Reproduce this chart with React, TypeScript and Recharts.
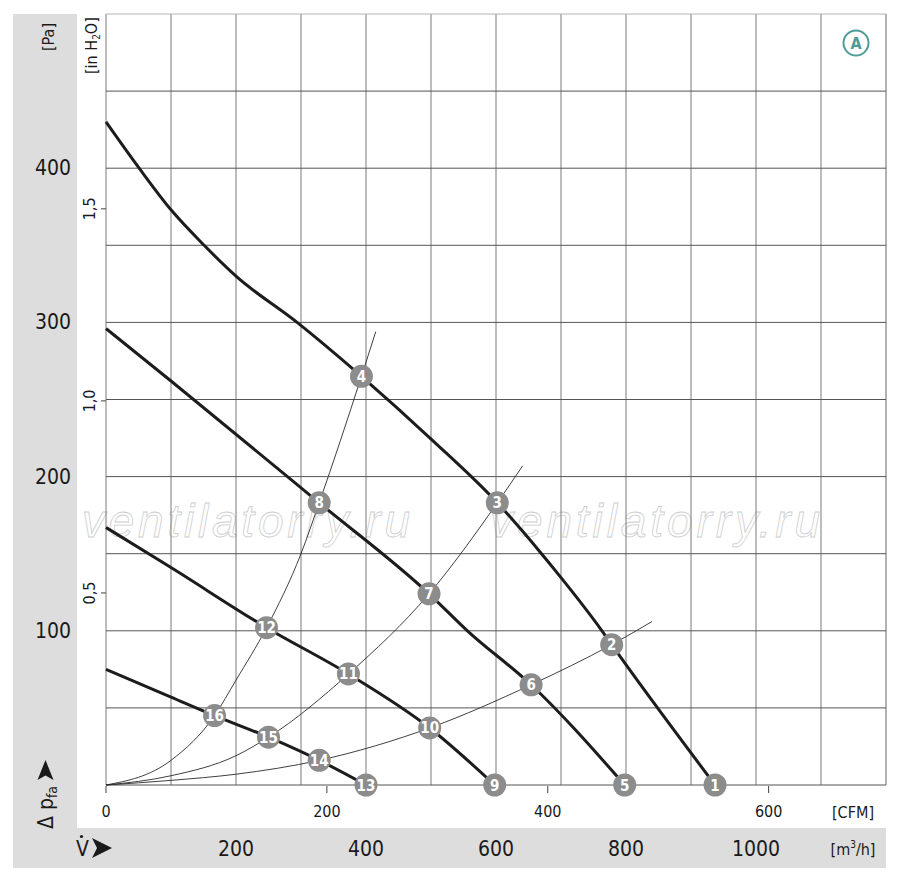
import * as React from 'react'
import { ComposedChart, Line, Scatter, XAxis, YAxis, ReferenceLine, ReferenceDot } from 'recharts'

// grid and tick values
const flowGrid = [0, 100, 200, 300, 400, 500, 600, 700, 800, 900, 1000, 1100, 1200]
const pressureGrid = [0, 50, 100, 150, 200, 250, 300, 350, 400, 450, 500]
const flowTicks = [200, 400, 600, 800, 1000]
const pressureTicks = [100, 200, 300, 400]
const cfmTicks = [0, 200, 400, 600]
const inchTicks = [0.5, 1.0, 1.5]

// fan characteristic curves, q in m³/h, p in Pa
const fanCurve1 = [
  { q: 0, p: 430 }, { q: 51, p: 400 }, { q: 100, p: 373 }, { q: 151, p: 350 },
  { q: 200, p: 330 }, { q: 294, p: 300 }, { q: 393, p: 265 }, { q: 501, p: 224 },
  { q: 602, p: 183 }, { q: 670, p: 150 }, { q: 701, p: 134 }, { q: 763, p: 100 },
  { q: 778, p: 91 }, { q: 937, p: 0 },
]
const fanCurve2 = [
  { q: 0, p: 296 }, { q: 100, p: 262 }, { q: 328, p: 183 }, { q: 497, p: 124 },
  { q: 556, p: 100 }, { q: 654, p: 65 }, { q: 798, p: 0 },
]
const fanCurve3 = [
  { q: 0, p: 167 }, { q: 100, p: 141 }, { q: 247, p: 102 },
  { q: 373, p: 72 }, { q: 498, p: 37 }, { q: 598, p: 0 },
]
const fanCurve4 = [
  { q: 0, p: 75 }, { q: 100, p: 57 }, { q: 167, p: 45 }, { q: 250, p: 31 },
  { q: 328, p: 16 }, { q: 400, p: 0 },
]

// system resistance curves
const systemSteep = [
  { q: 0, p: 0 }, { q: 100, p: 16 }, { q: 167, p: 45 }, { q: 200, p: 68 },
  { q: 247, p: 102 }, { q: 300, p: 150 }, { q: 328, p: 183 }, { q: 393, p: 265 },
  { q: 415, p: 294 },
]
const systemMedium = [
  { q: 0, p: 0 }, { q: 100, p: 6 }, { q: 200, p: 19 }, { q: 250, p: 31 },
  { q: 373, p: 72 }, { q: 497, p: 124 }, { q: 602, p: 183 }, { q: 641, p: 207 },
]
const systemFlat = [
  { q: 0, p: 0 }, { q: 100, p: 3 }, { q: 200, p: 7 }, { q: 328, p: 16 },
  { q: 498, p: 37 }, { q: 654, p: 65 }, { q: 778, p: 91 }, { q: 840, p: 106 },
]

const operatingPoints = [
  { n: 1, q: 937, p: 0 }, { n: 2, q: 778, p: 91 }, { n: 3, q: 602, p: 183 }, { n: 4, q: 393, p: 265 },
  { n: 5, q: 798, p: 0 }, { n: 6, q: 654, p: 65 }, { n: 7, q: 497, p: 124 }, { n: 8, q: 328, p: 183 },
  { n: 9, q: 598, p: 0 }, { n: 10, q: 498, p: 37 }, { n: 11, q: 373, p: 72 }, { n: 12, q: 247, p: 102 },
  { n: 13, q: 400, p: 0 }, { n: 14, q: 328, p: 16 }, { n: 15, q: 250, p: 31 }, { n: 16, q: 167, p: 45 },
]

const M3H_PER_CFM = 1.699
const PA_PER_INH2O = 249.09
const narrow = '"Liberation Sans Narrow", "DejaVu Sans Condensed", "Liberation Sans", sans-serif'
const band = '#dddddd'

function PointMarker(props: any) {
  const { cx, cy, payload } = props
  return (
    <g>
      <circle cx={cx} cy={cy} r={11.5} fill="#8c8c8c" />
      <text x={cx} y={cy} dy={0.5} textAnchor="middle" dominantBaseline="central"
        fontFamily={narrow} fontWeight="bold" fontSize={15} fill="#fff">{payload.n}</text>
    </g>
  )
}

// CFM scale drawn on the m³/h axis: a short tick below the plot and its label
function cfmTick(value: number) {
  return (props: any) => (
    <g>
      <line x1={props.cx} x2={props.cx} y1={props.cy + 1} y2={props.cy + 8} stroke="#444" strokeWidth={1} />
      <text x={props.cx} y={811} textAnchor="middle" dominantBaseline="central"
        fontFamily={narrow} fontSize={16} fill="#1a1a1a">{value}</text>
    </g>
  )
}

export default function App() {
  return (
    <div style={{ position: 'absolute', left: 0, top: 0, width: 900, height: 882, background: '#fff', fontFamily: narrow }}>
      <div style={{ position: 'absolute', left: 13, top: 14, width: 64, height: 814, background: band }} />
      <div style={{ position: 'absolute', left: 13, top: 828, width: 873, height: 40, background: band }} />

      <svg width={900} height={882} style={{ position: 'absolute', left: 0, top: 0 }}>
        <g fill="none" stroke="#cdcdcd" strokeWidth={0.8} fontStyle="italic" fontSize={46}
          fontFamily='"Liberation Sans", Arial, sans-serif'>
          <text x={82} y={537} textLength={328} lengthAdjust="spacing">ventilatorry.ru</text>
          <text x={490} y={537} textLength={330} lengthAdjust="spacing">ventilatorry.ru</text>
        </g>
      </svg>

      <div style={{ position: 'absolute', left: 0, top: 0 }}>
        <ComposedChart width={900} height={882} margin={{ top: 14, right: 14, bottom: 96, left: 104 }}>
          <XAxis xAxisId="m3h" dataKey="q" type="number" domain={[0, 1200]}
            ticks={flowTicks} height={1} axisLine={false} tickLine={false} interval={0}
            tick={(t: any) => (
              <text x={t.x} y={849} textAnchor="middle" dominantBaseline="central"
                fontFamily={narrow} fontSize={21} fill="#1a1a1a">{t.payload.value}</text>
            )} />
          <YAxis yAxisId="pa" dataKey="p" type="number" domain={[0, 500]}
            ticks={pressureTicks} width={1} axisLine={false} tickLine={false} interval={0}
            tick={(t: any) => (
              <text x={71} y={t.y} textAnchor="end" dominantBaseline="central"
                fontFamily={narrow} fontSize={21} fill="#1a1a1a">{t.payload.value}</text>
            )} />
          <YAxis yAxisId="inh2o" type="number" domain={[0, 500 / PA_PER_INH2O]} allowDataOverflow
            ticks={inchTicks} width={1} axisLine={false} tickSize={5} interval={0}
            tickLine={{ stroke: '#444' }}
            tick={(t: any) => (
              <text x={95} y={t.y} transform={`rotate(-90 95 ${t.y})`} textAnchor="middle"
                fontFamily={narrow} fontSize={16} fill="#1a1a1a">
                {Number(t.payload.value).toFixed(1).replace('.', ',')}
              </text>
            )} />

          {flowGrid.map((v) => (
            <ReferenceLine key={'vx' + v} xAxisId="m3h" yAxisId="pa" x={v}
              stroke={v === 1200 ? '#666' : '#7a7a7a'} strokeWidth={1} />
          ))}
          {pressureGrid.map((v) => (
            <ReferenceLine key={'hy' + v} xAxisId="m3h" yAxisId="pa" y={v}
              stroke={v === 500 ? '#b4b4b4' : '#555'} strokeWidth={1} />
          ))}
          {cfmTicks.map((c) => (
            <ReferenceDot key={'cfm' + c} xAxisId="m3h" yAxisId="pa" x={c * M3H_PER_CFM} y={0}
              ifOverflow="visible" shape={cfmTick(c)} />
          ))}

          {[systemSteep, systemMedium, systemFlat].map((d, i) => (
            <Line key={'s' + i} xAxisId="m3h" yAxisId="pa" data={d} dataKey="p" type="monotone"
              stroke="#2a2a2a" strokeWidth={0.9} dot={false} activeDot={false} isAnimationActive={false} />
          ))}
          {[fanCurve1, fanCurve2, fanCurve3, fanCurve4].map((d, i) => (
            <Line key={'f' + i} xAxisId="m3h" yAxisId="pa" data={d} dataKey="p" type="monotone"
              stroke="#1c1c1c" strokeWidth={3} dot={false} activeDot={false} isAnimationActive={false} />
          ))}
          <Scatter xAxisId="m3h" yAxisId="pa" data={operatingPoints} dataKey="p"
            shape={PointMarker} isAnimationActive={false} />
        </ComposedChart>
      </div>

      <svg width={900} height={882} style={{ position: 'absolute', left: 0, top: 0, pointerEvents: 'none' }}
        fontFamily={narrow} fill="#1a1a1a">
        <text transform="translate(54 51) rotate(-90)" fontSize={16}>[Pa]</text>
        <text transform="translate(97 74) rotate(-90)" fontSize={16}>
          [in H<tspan fontSize={10} dy={3}>2</tspan><tspan dy={-3}>O]</tspan>
        </text>
        <text transform="translate(53 829) rotate(-90)" fontSize={21}>
          Δ p<tspan fontSize={14} dy={4}>fa</tspan>
        </text>
        <path d="M45.5 760 L53.5 780 L45.5 775.5 L37.5 780 Z" fill="#1a1a1a" />
        <text x={76} y={856} fontSize={21}>V</text>
        <circle cx={81.5} cy={836.5} r={1.6} fill="#1a1a1a" />
        <path d="M92 838 L112 848 L92 858 L97 848 Z" fill="#1a1a1a" />
        <text x={853} y={812} textAnchor="middle" dominantBaseline="central" fontSize={16}>[CFM]</text>
        <text x={853} y={849} textAnchor="middle" dominantBaseline="central" fontSize={16}>
          [m<tspan fontSize={10} dy={-5}>3</tspan><tspan dy={5}>/h]</tspan>
        </text>
        <circle cx={856} cy={43} r={12.5} fill="#fff" stroke="#4f9b95" strokeWidth={2} />
        <text x={856} y={43.5} textAnchor="middle" dominantBaseline="central" fontSize={16}
          fontWeight="bold" fill="#4f9b95">A</text>
      </svg>
    </div>
  )
}
